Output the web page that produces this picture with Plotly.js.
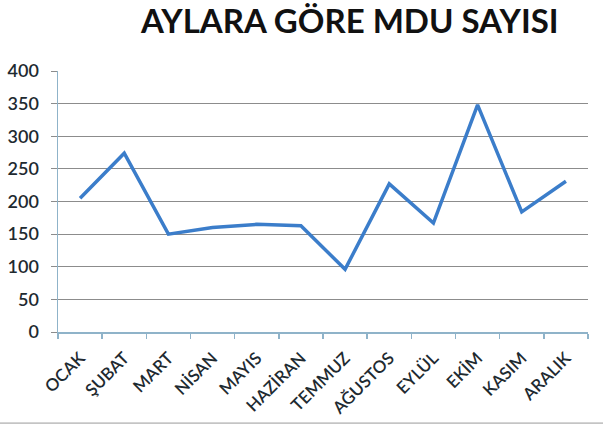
<!DOCTYPE html>
<html>
<head>
<meta charset="utf-8">
<script src="https://cdn.plot.ly/plotly-3.0.1.min.js"></script>
<style>html,body{margin:0;padding:0;background:#fff;}#chart{width:603px;height:427px;}</style>
</head>
<body>
<div id="chart"></div>
<script>
const months = ["OCAK","ŞUBAT","MART","NİSAN","MAYIS","HAZİRAN","TEMMUZ","AĞUSTOS","EYLÜL","EKİM","KASIM","ARALIK"];
const mduCounts = [205, 274, 150, 160, 165, 163, 96, 227, 167, 348, 184, 231];
const yTicks = [0, 50, 100, 150, 200, 250, 300, 350, 400];

const trace = {
  x: months,
  y: mduCounts,
  type: "scatter",
  mode: "lines",
  line: {color: "#3b7dca", width: 3.5},
  hoverinfo: "x+y"
};

const layout = {
  width: 603,
  height: 427,
  margin: {l: 58, r: 15, t: 71, b: 95},
  paper_bgcolor: "#ffffff",
  plot_bgcolor: "#ffffff",
  showlegend: false,
  font: {family: "Lato, 'Open Sans', sans-serif", color: "#1a1a1a"},
  title: {
    text: "<b>AYLARA GÖRE MDU SAYISI</b>",
    font: {family: "Lato, 'Open Sans', sans-serif", size: 33, color: "#111111"},
    x: 0.58, xanchor: "center",
    y: 0.95, yanchor: "middle"
  },
  xaxis: {
    type: "category",
    range: [-0.5, 11.5],
    tickson: "boundaries",
    ticks: "outside",
    ticklen: 5,
    tickcolor: "#8fb3c9",
    tickwidth: 1.5,
    showline: true,
    linecolor: "#8fb3c9",
    linewidth: 1.5,
    showgrid: false,
    tickangle: -45,
    ticklabelstandoff: 8,
    tickfont: {size: 17, color: "#1e2a30", weight: 600},
    fixedrange: true
  },
  yaxis: {
    range: [0, 400],
    tickvals: yTicks,
    ticktext: yTicks.map(String),
    showline: true,
    linecolor: "#8fb3c9",
    linewidth: 1.5,
    ticks: "outside",
    ticklen: 6,
    tickcolor: "#8c8c8c",
    showgrid: true,
    gridcolor: "#8c8c8c",
    gridwidth: 1,
    zeroline: false,
    ticklabelstandoff: 8,
    tickfont: {size: 18, color: "#1e2a30", weight: 600},
    fixedrange: true
  },
  shapes: [{
    type: "line", xref: "paper", yref: "paper",
    x0: -0.12, x1: 1.03, y0: -0.349, y1: -0.349,
    line: {color: "#9a9a9a", width: 1}
  }]
};

Plotly.newPlot("chart", [trace], layout, {displayModeBar: false, staticPlot: true});
</script>
</body>
</html>
